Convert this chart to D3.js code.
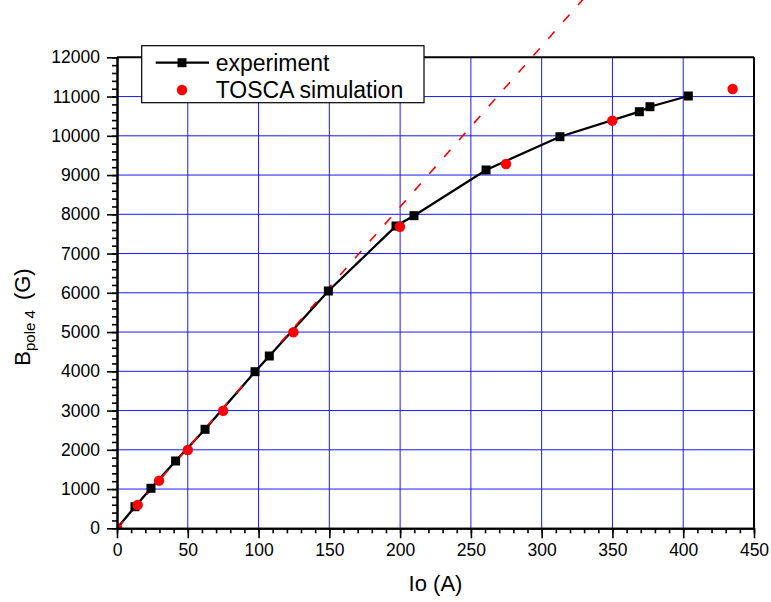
<!DOCTYPE html>
<html>
<head>
<meta charset="utf-8">
<script src="https://cdn.jsdelivr.net/npm/d3@7/dist/d3.min.js"></script>
<style>
  html, body { margin: 0; padding: 0; background: #fff; }
  svg { display: block; font-family: "Liberation Sans", Arial, sans-serif; }
</style>
</head>
<body>
<svg id="chart" width="771" height="602"></svg>
<script>
// ---- data ----
const expI = [0, 12.7, 24, 41.4, 62.2, 97.5, 107.6, 149.3, 197.1, 209.8, 260.7, 312.9, 369, 376.5, 403.6];
const expB = [0, 550, 1019, 1715, 2522, 3990, 4390, 6046, 7702, 7965, 9129, 9977, 10614, 10741, 11014];
const simI = [0, 14.6, 29.7, 50, 75, 124.6, 199.9, 274.8, 349.9, 434.9];
const simB = [0, 594, 1213, 1995, 2996, 4994, 7684, 9282, 10385, 11192];
const fitI = [0, 330];
const fitB = [0, 13510];
const xTicks = [0, 50, 100, 150, 200, 250, 300, 350, 400, 450];
const yTicks = [0, 1000, 2000, 3000, 4000, 5000, 6000, 7000, 8000, 9000, 10000, 11000, 12000];
const legendLabels = ["experiment", "TOSCA simulation"];

const svg = d3.select("#chart");
const L = 117, R = 754, T = 57.3, B = 528.3;
const x = d3.scaleLinear().domain([0, 450]).range([L, R]);
const y = d3.scaleLinear().domain([0, 12000]).range([B, T]);

svg.append("defs").append("clipPath").attr("id", "plotclip")
  .append("rect").attr("x", L).attr("y", T).attr("width", R - L).attr("height", B - T);

// grid
const grid = svg.append("g");
grid.selectAll(".gx").data(xTicks.filter(d => d > 0 && d < 450)).enter().append("line")
  .attr("x1", d => x(d)).attr("x2", d => x(d)).attr("y1", T).attr("y2", B)
  .attr("stroke", "#1a1aff").attr("stroke-width", 1);
grid.selectAll(".gy").data(yTicks.filter(d => d > 0 && d < 12000)).enter().append("line")
  .attr("y1", d => y(d)).attr("y2", d => y(d)).attr("x1", L).attr("x2", R)
  .attr("stroke", "#1a1aff").attr("stroke-width", 1);

// frame top / right
svg.append("line").attr("x1", L).attr("x2", R).attr("y1", T).attr("y2", T).attr("stroke", "#000").attr("stroke-width", 2);
svg.append("line").attr("x1", R).attr("x2", R).attr("y1", T).attr("y2", B).attr("stroke", "#000").attr("stroke-width", 2);

// experiment line
const expData = expI.map((d, i) => [d, expB[i]]);
const simData = simI.map((d, i) => [d, simB[i]]);
const fitData = fitI.map((d, i) => [d, fitB[i]]);
const line = d3.line().x(d => x(d[0])).y(d => y(d[1]));

svg.append("path").datum(expData).attr("d", line)
  .attr("fill", "none").attr("stroke", "#000").attr("stroke-width", 2.3)
  .attr("clip-path", "url(#plotclip)");

// linear extrapolation (dashed red)
svg.append("path").datum(fitData).attr("d", line)
  .attr("fill", "none").attr("stroke", "#ff0000").attr("stroke-width", 1.6)
  .attr("stroke-dasharray", "9.5,13");

// markers
const mk = svg.append("g").attr("clip-path", "url(#plotclip)");
const sq = 9;
mk.selectAll(".sq").data(expData).enter().append("rect")
  .attr("x", d => x(d[0]) - sq / 2).attr("y", d => y(d[1]) - sq / 2)
  .attr("width", sq).attr("height", sq).attr("fill", "#000");
mk.selectAll(".ci").data(simData).enter().append("circle")
  .attr("cx", d => x(d[0])).attr("cy", d => y(d[1])).attr("r", 5.2)
  .attr("fill", "#ff0000");

// axes
const fmt = d3.format("d");
const xAxis = svg.append("g").attr("transform", `translate(0,${B})`)
  .call(d3.axisBottom(x).tickValues(xTicks).tickSize(10).tickSizeOuter(0).tickPadding(5).tickFormat(fmt));
const xMinor = svg.append("g").attr("transform", `translate(0,${B})`)
  .call(d3.axisBottom(x).tickValues(d3.range(0, 451, 10)).tickSize(5).tickSizeOuter(0).tickFormat(""));
const yAxis = svg.append("g").attr("transform", `translate(${L},0)`)
  .call(d3.axisLeft(y).tickValues(yTicks).tickSize(10).tickSizeOuter(0).tickPadding(7).tickFormat(fmt));
const yMinor = svg.append("g").attr("transform", `translate(${L},0)`)
  .call(d3.axisLeft(y).tickValues(d3.range(0, 12001, 200)).tickSize(5).tickSizeOuter(0).tickFormat(""));

[xAxis, xMinor, yAxis, yMinor].forEach(g => {
  g.select(".domain").attr("stroke", "#000").attr("stroke-width", 2);
  g.selectAll(".tick line").attr("stroke", "#000").attr("stroke-width", 1.6);
  g.selectAll("text").attr("fill", "#000").style("font-size", "17.5px")
    .style("font-family", "'Liberation Sans', Arial, sans-serif");
});
xAxis.selectAll("text").attr("dy", "0.7em");

// axis titles
svg.append("text").attr("x", (L + R) / 2).attr("y", 591).attr("text-anchor", "middle")
  .style("font-size", "22px").text("Io (A)");
const yt = svg.append("text").attr("transform", "translate(30,317) rotate(-90)")
  .attr("text-anchor", "middle").style("font-size", "22px");
yt.append("tspan").text("B");
yt.append("tspan").attr("baseline-shift", "-5").style("font-size", "15px").text("pole 4");
yt.append("tspan").attr("dx", 10).text("(G)");

// legend
const lg = svg.append("g");
lg.append("rect").attr("x", 141.7).attr("y", 45.7).attr("width", 282.3).attr("height", 57)
  .attr("fill", "#fff").attr("stroke", "#000").attr("stroke-width", 1.2);
lg.append("line").attr("x1", 155.7).attr("x2", 209).attr("y1", 62.7).attr("y2", 62.7)
  .attr("stroke", "#000").attr("stroke-width", 2.3);
lg.append("rect").attr("x", 182 - sq / 2).attr("y", 62.7 - sq / 2).attr("width", sq).attr("height", sq).attr("fill", "#000");
lg.append("circle").attr("cx", 182).attr("cy", 90).attr("r", 5.2).attr("fill", "#ff0000");
lg.selectAll(".lt").data(legendLabels).enter().append("text")
  .attr("x", 215.7).attr("y", (d, i) => 62.7 + i * 27.3).attr("dy", "0.35em")
  .style("font-size", "23px").text(d => d);
</script>
</body>
</html>
